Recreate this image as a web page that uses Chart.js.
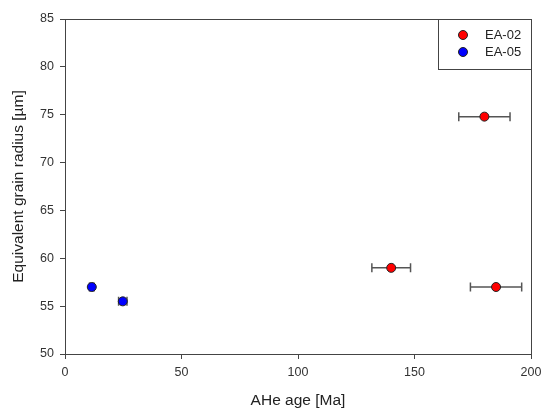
<!DOCTYPE html>
<html><head><meta charset="utf-8">
<script src="https://cdn.jsdelivr.net/npm/chart.js@4/dist/chart.umd.min.js"></script>
<style>html,body{margin:0;padding:0;background:#fff}#wrap{width:543px;height:408px}</style>
</head><body><div id="wrap"><canvas id="c" width="543" height="408"></canvas></div>
<script>
const seriesNames = ["EA-02", "EA-05"];
const ea02Age = [180, 140, 185];
const ea02Radius = [74.8, 59, 57];
const ea02AgeErr = [11, 8.3, 11];
const ea05Age = [11.5, 24.8];
const ea05Radius = [57, 55.5];
const ea05AgeErr = [1.0, 1.8];
const xTicks = [0, 50, 100, 150, 200];
const yTicks = [50, 55, 60, 65, 70, 75, 80, 85];

const toPts = (xs, ys) => xs.map((x, i) => ({x: x, y: ys[i]}));
const AXC = '#444';
const FONT = 'Liberation Sans, Arial, sans-serif';

const errPlugin = {
  id: 'errbars',
  beforeDatasetsDraw(chart) {
    const ctx = chart.ctx, xs = chart.scales.x, ys = chart.scales.y;
    ctx.save();
    ctx.strokeStyle = '#555'; ctx.lineWidth = 1.5;
    chart.data.datasets.forEach(ds => {
      ds.data.forEach((p, i) => {
        const e = ds.xErr[i];
        const x1 = xs.getPixelForValue(p.x - e), x2 = xs.getPixelForValue(p.x + e);
        const y = ys.getPixelForValue(p.y);
        ctx.beginPath();
        ctx.moveTo(x1, y); ctx.lineTo(x2, y);
        ctx.moveTo(x1, y - 4.5); ctx.lineTo(x1, y + 4.5);
        ctx.moveTo(x2, y - 4.5); ctx.lineTo(x2, y + 4.5);
        ctx.stroke();
      });
    });
    ctx.restore();
  },
  afterDraw(chart) {
    const ctx = chart.ctx, a = chart.chartArea;
    ctx.save();
    ctx.strokeStyle = AXC; ctx.lineWidth = 1;
    ctx.strokeRect(a.left + 0.5, a.top + 0.5, a.right - a.left, a.bottom - a.top);
    // legend box
    const bx = 438, by = a.top, bw = a.right - bx, bh = 50;
    ctx.strokeRect(bx + 0.5, by + 0.5, bw, bh);
    ctx.font = '13px ' + FONT;
    ctx.textBaseline = 'middle';
    chart.data.datasets.forEach((ds, i) => {
      const yy = by + 16 + i * 17;
      ctx.beginPath();
      ctx.arc(bx + 25, yy, 4.5, 0, Math.PI * 2);
      ctx.fillStyle = ds.backgroundColor; ctx.fill();
      ctx.strokeStyle = '#222'; ctx.stroke();
      ctx.fillStyle = '#222';
      ctx.fillText(ds.label, bx + 47, yy);
    });
    ctx.restore();
  }
};

new Chart(document.getElementById('c'), {
  type: 'scatter',
  data: {
    datasets: [
      {label: seriesNames[0], data: toPts(ea02Age, ea02Radius), xErr: ea02AgeErr,
       backgroundColor: '#ff0000', borderColor: '#222', borderWidth: 1, pointRadius: 4.5, pointHoverRadius: 4.5},
      {label: seriesNames[1], data: toPts(ea05Age, ea05Radius), xErr: ea05AgeErr,
       backgroundColor: '#0000ff', borderColor: '#222', borderWidth: 1, pointRadius: 4.5, pointHoverRadius: 4.5}
    ]
  },
  options: {
    responsive: false, animation: false,
    layout: {padding: {top: 19, right: 12, left: 0, bottom: 0}},
    plugins: {legend: {display: false}, tooltip: {enabled: false}},
    scales: {
      x: {
        type: 'linear', min: 0, max: 200,
        afterBuildTicks: s => { s.ticks = xTicks.map(v => ({value: v})); },
        afterFit: s => { s.height = 54; s.paddingRight = 0; s.paddingLeft = 0; },
        grid: {drawOnChartArea: false, drawTicks: true, tickLength: 5, color: AXC},
        border: {color: AXC, width: 1},
        ticks: {color: '#333', font: {family: FONT, size: 12.5}, padding: 6},
        title: {display: true, text: 'AHe age [Ma]', color: '#222', font: {family: FONT, size: 15.5, lineHeight: 1}, padding: {top: 0, bottom: 0}}
      },
      y: {
        type: 'linear', min: 50, max: 85,
        afterBuildTicks: s => { s.ticks = yTicks.map(v => ({value: v})); },
        afterFit: s => { s.width = 65; s.paddingTop = 0; s.paddingBottom = 0; },
        grid: {drawOnChartArea: false, drawTicks: true, tickLength: 5, color: AXC},
        border: {color: AXC, width: 1},
        ticks: {color: '#333', font: {family: FONT, size: 12.5}, padding: 6},
        title: {display: true, text: 'Equivalent grain radius [µm]', color: '#222', font: {family: FONT, size: 15.5, lineHeight: 1}, padding: {top: 11, bottom: 0}}
      }
    }
  },
  plugins: [errPlugin]
});
</script></body></html>
